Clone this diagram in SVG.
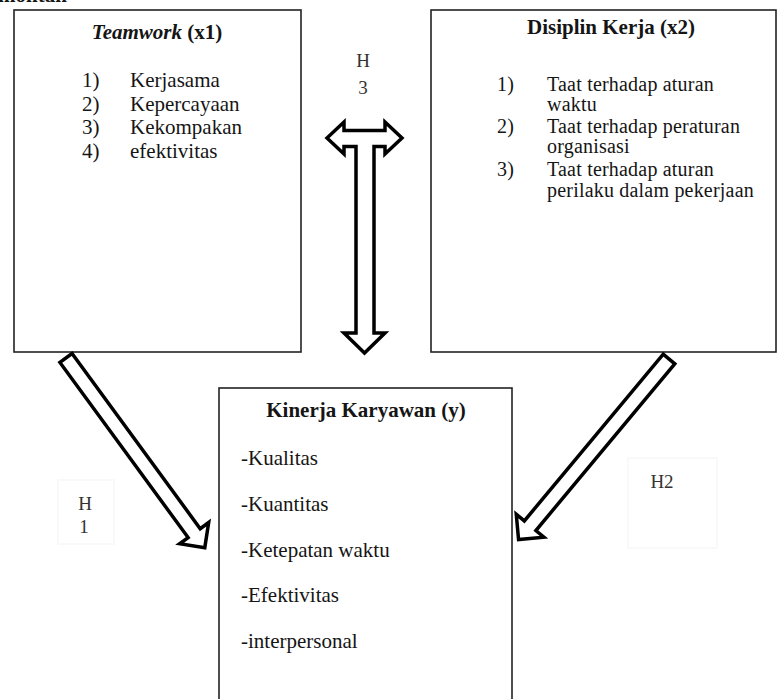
<svg xmlns="http://www.w3.org/2000/svg" width="778" height="699" viewBox="0 0 778 699">
<style>
  .box { fill: #ffffff; stroke: #222222; stroke-width: 1.6; }
  .faint { fill: none; stroke: #f3f3f3; stroke-width: 1; }
  .t { font-family: "Liberation Serif", "Times New Roman", serif; font-size: 21px; fill: #151515; }
  .s { font-size: 20px; letter-spacing: 0.2px; }
  .b { font-weight: bold; }
  .lbl { font-family: "Liberation Serif", "Times New Roman", serif; font-size: 19px; fill: #333333; text-anchor: middle; }
  .arrow { fill: #ffffff; stroke: #000000; stroke-width: 3.5; stroke-linejoin: miter; }
</style>
<rect x="0" y="0" width="778" height="699" fill="#ffffff"/>
<text class="t b" x="-2" y="2">montan</text>

<g id="node-teamwork">
  <rect class="box" x="14" y="10" width="287" height="342"/>
  <text class="t b" x="157" y="39" text-anchor="middle"><tspan font-style="italic">Teamwork</tspan> (x1)</text>
  <text class="t" x="82" y="87">1)</text><text class="t" x="130" y="87">Kerjasama</text>
  <text class="t" x="82" y="111">2)</text><text class="t" x="130" y="111">Kepercayaan</text>
  <text class="t" x="82" y="134">3)</text><text class="t" x="130" y="134">Kekompakan</text>
  <text class="t" x="82" y="158">4)</text><text class="t" x="130" y="158">efektivitas</text>
</g>

<g id="node-disiplin">
  <rect class="box" x="431" y="10" width="345" height="342"/>
  <text class="t b" x="611" y="34" text-anchor="middle">Disiplin Kerja (x2)</text>
  <text class="t s" x="497" y="91">1)</text><text class="t s" x="547" y="91">Taat terhadap aturan</text>
  <text class="t s" x="547" y="111">waktu</text>
  <text class="t s" x="497" y="133">2)</text><text class="t s" x="547" y="133">Taat terhadap peraturan</text>
  <text class="t s" x="547" y="153">organisasi</text>
  <text class="t s" x="497" y="176">3)</text><text class="t s" x="547" y="176">Taat terhadap aturan</text>
  <text class="t s" x="547" y="197">perilaku dalam pekerjaan</text>
</g>

<g id="node-kinerja">
  <rect class="box" x="219" y="388" width="293" height="340"/>
  <text class="t b" x="366" y="417" text-anchor="middle">Kinerja Karyawan (y)</text>
  <text class="t" x="241" y="465">-Kualitas</text>
  <text class="t" x="241" y="511">-Kuantitas</text>
  <text class="t" x="241" y="557">-Ketepatan waktu</text>
  <text class="t" x="241" y="602">-Efektivitas</text>
  <text class="t" x="241" y="648">-interpersonal</text>
</g>

<g id="connectors">
  <path class="arrow" d="M327,138 L344,122 L344,130.5 L385,130.5 L385,122 L402,138 L385,154 L385,146.5 L374,146.5 L374,333 L385,333 L364.5,353 L344,333 L356,333 L356,146.5 L344,146.5 L344,154 Z"/>
  <path class="arrow" transform="translate(66,358) rotate(53.8)" d="M0,-7.5 L217,-7.5 L217,-18 L235,0 L217,18 L217,7.5 L0,7.5 Z"/>
  <path class="arrow" transform="translate(669,359) rotate(129.8)" d="M0,-7.5 L217,-7.5 L217,-18 L235,0 L217,18 L217,7.5 L0,7.5 Z"/>
</g>

<g id="label-h3">
  <text class="lbl" x="363" y="67">H</text>
  <text class="lbl" x="363" y="94">3</text>
</g>
<g id="label-h1">
  <rect class="faint" x="58" y="480" width="56" height="64"/>
  <text class="lbl" x="85" y="510">H</text>
  <text class="lbl" x="84" y="533" font-size="15">1</text>
</g>
<g id="label-h2">
  <rect class="faint" x="628" y="458" width="89" height="90"/>
  <text class="lbl" x="662" y="488">H2</text>
</g>
</svg>
